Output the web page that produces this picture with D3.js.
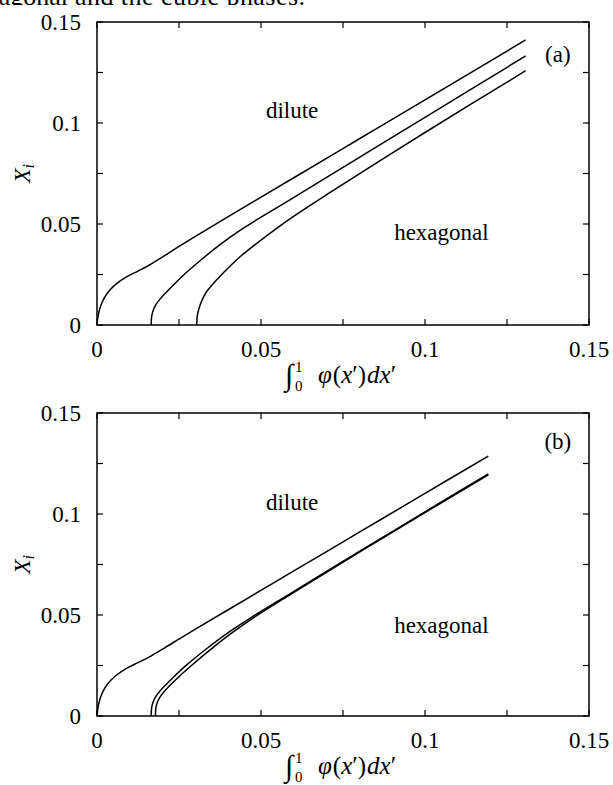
<!DOCTYPE html>
<html>
<head>
<meta charset="utf-8">
<script src="https://cdn.jsdelivr.net/npm/d3@7/dist/d3.min.js"></script>
<style>
  html, body { margin: 0; padding: 0; background: #fff; }
  svg { display: block; }
  text { font-family: "Liberation Serif", "Times New Roman", serif; fill: #000; }
</style>
</head>
<body>
<div id="chart"></div>
<script>
// Phase boundaries X_i versus the integrated volume fraction, two cases (a) and (b)

// axis ticks (major labelled, minor unlabelled)
const xTicks = [0, 0.025, 0.05, 0.075, 0.1, 0.125, 0.15];
const yTicks = [0, 0.025, 0.05, 0.075, 0.1, 0.125, 0.15];
const xTickLabels = ["0", "", "0.05", "", "0.1", "", "0.15"];
const yTickLabels = ["0", "", "0.05", "", "0.1", "", "0.15"];

// panel (a): three boundaries [x, X_i]
const panelA1 = [[0,0],[0.0003,0.0042],[0.0008,0.0078],[0.0015,0.0110],[0.0025,0.0142],[0.004,0.0175],[0.006,0.0205],[0.009,0.0238],[0.0125,0.0267],[0.016,0.0297],[0.02,0.0337],[0.025,0.0389],[0.03,0.0439],[0.04,0.0537],[0.06,0.0729],[0.08,0.0922],[0.1,0.1115],[0.1307,0.1411]];
const panelA2 = [[0.0165,0],[0.01655,0.0020],[0.0167,0.0045],[0.0172,0.0075],[0.018,0.0102],[0.0192,0.0128],[0.021,0.0160],[0.0233,0.0198],[0.027,0.0256],[0.0314,0.0318],[0.037,0.0392],[0.0436,0.0469],[0.0588,0.0619],[0.08,0.0830],[0.1,0.1028],[0.1307,0.1332]];
const panelA3 = [[0.0304,0],[0.03045,0.0022],[0.0306,0.0048],[0.0311,0.0082],[0.0319,0.0118],[0.0333,0.0162],[0.0355,0.0206],[0.039,0.0266],[0.0436,0.0338],[0.05,0.0420],[0.0588,0.0525],[0.07,0.0645],[0.085,0.0800],[0.1,0.0953],[0.1307,0.1259]];

// panel (b): three boundaries [x, X_i]
const panelB1 = [[0,0],[0.0003,0.0042],[0.0008,0.0078],[0.0015,0.0110],[0.0025,0.0141],[0.004,0.0173],[0.006,0.0203],[0.009,0.0236],[0.0125,0.0264],[0.016,0.0293],[0.02,0.0331],[0.025,0.0381],[0.03,0.0430],[0.04,0.0526],[0.06,0.0718],[0.08,0.0910],[0.1,0.1102],[0.1193,0.1287]];
const panelB2 = [[0.0165,0],[0.01655,0.0020],[0.0167,0.0045],[0.0172,0.0073],[0.018,0.0098],[0.0192,0.0124],[0.021,0.0155],[0.0233,0.0192],[0.027,0.0248],[0.0334,0.0333],[0.04,0.0413],[0.0478,0.0496],[0.0588,0.0605],[0.08,0.0815],[0.1,0.1011],[0.1193,0.1198]];
const panelB3 = [[0.0178,0],[0.01785,0.0020],[0.018,0.0045],[0.0185,0.0072],[0.0193,0.0096],[0.0205,0.0121],[0.0222,0.0151],[0.0244,0.0186],[0.028,0.0239],[0.0342,0.0324],[0.0405,0.0404],[0.048,0.0490],[0.0588,0.0600],[0.08,0.0811],[0.1,0.1007],[0.1193,0.1194]];

const panels = [
  { tag: "(a)", curves: [panelA1, panelA2, panelA3], top: 22, bottom: 325,
    dilute: [0.0595, 0.1025], hex: [0.105, 0.042], tagPos: [0.1405, 0.130] },
  { tag: "(b)", curves: [panelB1, panelB2, panelB3], top: 413, bottom: 716,
    dilute: [0.0595, 0.102], hex: [0.105, 0.041], tagPos: [0.1405, 0.132] }
];

const W = 613, H = 785;
const left = 97, right = 589;
const fs = 23;
const tickLen = 6;

const svg = d3.select("#chart").append("svg")
  .attr("width", W).attr("height", H);

// tail of the running text above the figure, cut by the page edge
const clip = svg.append("defs").append("clipPath").attr("id", "topclip");
clip.append("rect").attr("x", 0).attr("y", 0).attr("width", W).attr("height", 5);
const para = svg.append("g").attr("clip-path", "url(#topclip)");
para.append("text").attr("x", 68).attr("y", 5).attr("text-anchor", "end")
  .attr("font-size", 26).text("hexagonal");
para.append("text").attr("x", 75).attr("y", 5)
  .attr("font-size", 26).attr("textLength", 230).attr("lengthAdjust", "spacing")
  .text("and the cubic phases.");

const x = d3.scaleLinear().domain([0, 0.15]).range([left, right]);

panels.forEach(p => {
  const y = d3.scaleLinear().domain([0, 0.15]).range([p.bottom, p.top]);
  const g = svg.append("g");

  // inward ticks on all four sides
  const tickG = g.append("g").attr("stroke", "#000").attr("stroke-width", 1.2);
  xTicks.forEach(t => {
    tickG.append("line").attr("x1", x(t)).attr("x2", x(t))
      .attr("y1", p.bottom).attr("y2", p.bottom - tickLen);
    tickG.append("line").attr("x1", x(t)).attr("x2", x(t))
      .attr("y1", p.top).attr("y2", p.top + tickLen);
  });
  yTicks.forEach(t => {
    tickG.append("line").attr("x1", left).attr("x2", left + tickLen)
      .attr("y1", y(t)).attr("y2", y(t));
    tickG.append("line").attr("x1", right).attr("x2", right - tickLen)
      .attr("y1", y(t)).attr("y2", y(t));
  });

  // tick labels
  xTicks.forEach((t, i) => {
    if (!xTickLabels[i]) return;
    g.append("text").attr("x", x(t)).attr("y", p.bottom + 32)
      .attr("text-anchor", "middle").attr("font-size", fs).text(xTickLabels[i]);
  });
  yTicks.forEach((t, i) => {
    if (!yTickLabels[i]) return;
    g.append("text").attr("x", 81).attr("y", y(t) + 7.5)
      .attr("text-anchor", "end").attr("font-size", fs).text(yTickLabels[i]);
  });

  // frame
  g.append("rect").attr("x", left).attr("y", p.top)
    .attr("width", right - left).attr("height", p.bottom - p.top)
    .attr("fill", "none").attr("stroke", "#000").attr("stroke-width", 1.5);

  // boundary curves
  const line = d3.line().x(d => x(d[0])).y(d => y(d[1]))
    .curve(d3.curveCatmullRom.alpha(0.5));
  p.curves.forEach(c => {
    g.append("path").datum(c).attr("d", line)
      .attr("fill", "none").attr("stroke", "#000").attr("stroke-width", 1.5);
  });

  // region labels and panel tag
  g.append("text").attr("x", x(p.dilute[0])).attr("y", y(p.dilute[1]))
    .attr("text-anchor", "middle").attr("font-size", fs).text("dilute");
  g.append("text").attr("x", x(p.hex[0])).attr("y", y(p.hex[1]))
    .attr("text-anchor", "middle").attr("font-size", fs).text("hexagonal");
  g.append("text").attr("x", x(p.tagPos[0])).attr("y", y(p.tagPos[1]))
    .attr("text-anchor", "middle").attr("font-size", fs).text(p.tag);

  // x-axis title: ∫_0^1 φ(x′)dx′
  const base = p.bottom + 58;
  g.append("text").attr("x", 285).attr("y", base + 2)
    .attr("font-size", 30).text("∫");
  g.append("text").attr("x", 295).attr("y", base - 11)
    .attr("font-size", 15).text("1");
  g.append("text").attr("x", 295).attr("y", base + 8)
    .attr("font-size", 15).text("0");
  const tx = g.append("text").attr("x", 318).attr("y", base)
    .attr("font-size", 25);
  tx.append("tspan").attr("font-style", "italic").text("φ");
  tx.append("tspan").attr("dx", 1).text("(");
  tx.append("tspan").attr("font-style", "italic").text("x");
  tx.append("tspan").text("′)");
  tx.append("tspan").attr("font-style", "italic").attr("dx", 1).text("dx");
  tx.append("tspan").text("′");

  // y-axis title: X_i
  const cy = (p.top + p.bottom) / 2;
  const ty = g.append("text")
    .attr("transform", `translate(30,${cy}) rotate(-90)`)
    .attr("text-anchor", "middle").attr("font-size", 24);
  ty.append("tspan").attr("font-style", "italic").text("X");
  ty.append("tspan").attr("font-style", "italic").attr("font-size", 16).attr("dy", 4).text("i");
});
</script>
</body>
</html>
